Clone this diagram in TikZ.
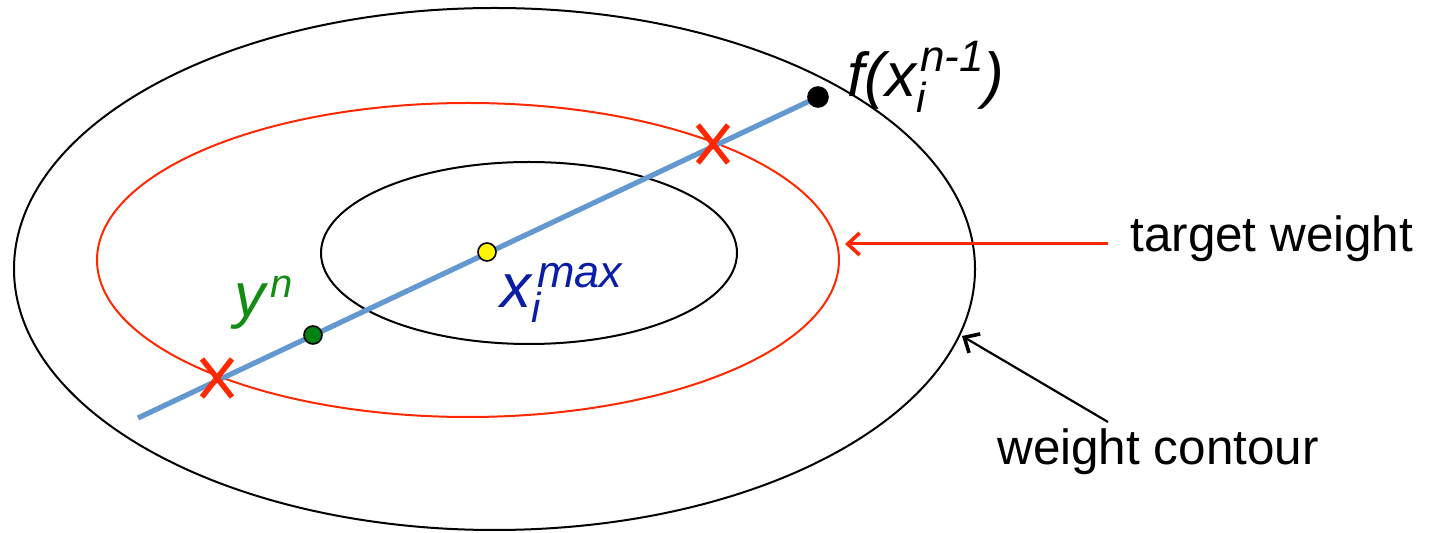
\documentclass[tikz,border=0pt]{standalone}
\usepackage{fontspec}
\setmainfont{Liberation Sans}
\usetikzlibrary{arrows.meta}
\definecolor{linered}{RGB}{255,40,0}
\definecolor{lineblue}{RGB}{100,152,208}
\definecolor{labelblue}{RGB}{10,30,165}
\definecolor{labelgreen}{RGB}{20,140,20}
\definecolor{dotgreen}{RGB}{0,130,20}
\definecolor{dotyellow}{RGB}{255,245,0}
\tikzset{
  contour/.style={draw=black, line width=1pt},
  redcontour/.style={draw=linered, line width=1pt},
  pathline/.style={draw=lineblue, line width=2.6pt},
  dotnode/.style={circle, draw=black, line width=0.8pt, inner sep=0pt, minimum size=#1},
  xmark/.style={draw=linered, line width=2.7pt},
  lbl/.style={inner sep=0pt, anchor=base west},
  callout/.style={-{Straight Barb[length=6pt,width=11pt,line width=1.8pt]}},
}
\newcommand{\bigsz}{\fontsize{31}{31}\selectfont}
\newcommand{\smsz}{\fontsize{21}{21}\selectfont}
\begin{document}
\begin{tikzpicture}[x=0.5pt,y=-0.5pt]
\useasboundingbox (0,0) rectangle (1429,533);
% contours
\draw[contour] (494.5,269) ellipse [x radius=240.25pt, y radius=130.5pt];
\draw[redcontour] (468,260) ellipse [x radius=185.5pt, y radius=78.5pt];
\draw[contour] (529,253) ellipse [x radius=104pt, y radius=45.5pt];
% search line
\coordinate (s) at (138,418);
\coordinate (fpt) at (818,97);
\draw[pathline] (s) -- (fpt);
% crossing marks
\coordinate (c1) at (713,144);
\coordinate (c2) at (217,378);
\draw[xmark] ([shift={(-15,-19)}]c1) -- ([shift={(15,19)}]c1);
\draw[xmark] ([shift={(15,-19)}]c1) -- ([shift={(-15,19)}]c1);
\draw[xmark] ([shift={(-15,-19)}]c2) -- ([shift={(15,19)}]c2);
\draw[xmark] ([shift={(15,-19)}]c2) -- ([shift={(-15,19)}]c2);
% dots
\node[dotnode=10pt, fill=black] (fdot) at (fpt) {};
\node[dotnode=9pt, fill=dotyellow] (ydot) at (487,252) {};
\node[dotnode=9pt, fill=dotgreen] (gdot) at (313,335) {};
% labels
\node[lbl] (flab) at (847,97) {\bigsz\itshape f(x\rlap{\raisebox{-8pt}{\smsz i}}\kern2pt\raisebox{12.5pt}{\fontsize{22}{22}\selectfont n-1})};
\node[lbl, text=labelblue] (xlab) at (500,308) {\bigsz\itshape x\rlap{\raisebox{-7.5pt}{\smsz i}}\kern3pt\raisebox{10pt}{\fontsize{22.5}{22.5}\selectfont max}};
\node[lbl, text=labelgreen] (ylab) at (234,317) {\bigsz\itshape y\kern2.5pt\raisebox{9.5pt}{\fontsize{20}{20}\selectfont n}};
\node[lbl] (tw) at (1130,252) {\fontsize{24.7}{24.7}\selectfont target weight};
\node[lbl] (wc) at (997,465) {\fontsize{24.7}{24.7}\selectfont weight contour};
% callouts
\coordinate (twstart) at (1108,244);
\coordinate (twend) at (845,244);
\coordinate (wcstart) at (1108,422);
\coordinate (wcend) at (962,336);
\draw[callout, draw=linered, line width=1.5pt] (twstart) -- (twend);
\draw[callout, draw=black, line width=1.1pt] (wcstart) -- (wcend);
\end{tikzpicture}
\end{document}
